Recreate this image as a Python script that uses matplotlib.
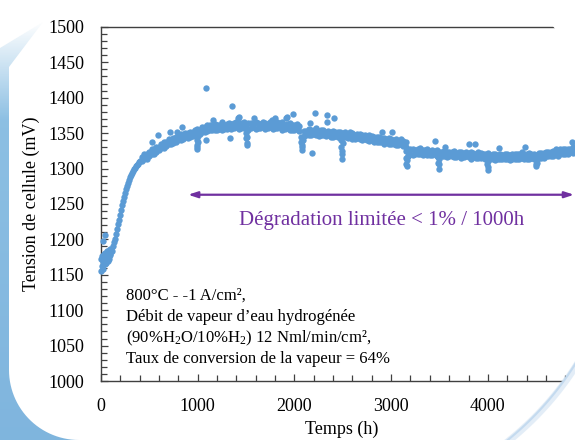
import numpy as np
import matplotlib.pyplot as plt
from matplotlib.patches import Polygon
from matplotlib.ticker import MultipleLocator

# fonts: serif like the original slide (Times-like)
plt.rcParams['font.family'] = ['Liberation Serif', 'DejaVu Serif']
plt.rcParams['mathtext.fontset'] = 'custom'
plt.rcParams['mathtext.rm'] = 'Liberation Serif'
plt.rcParams['mathtext.it'] = 'Liberation Serif:italic'

BLUE = '#5b9bd5'
PURPLE = '#7030a0'

# ---- data (time in h, cell voltage in mV) ----
# start-up and voltage rise
t_rise = [0, 5, 10, 15, 20, 25, 30, 35, 40, 45, 50, 55, 60, 65, 70, 75, 80, 85, 90, 95,
          100, 110, 120, 130, 140, 150, 160, 170, 180, 190, 200, 210, 220, 230, 240,
          250, 260, 270, 280, 290, 300, 310, 320, 330, 340, 350, 360, 370, 380, 390, 400]
v_rise = [1156, 1172, 1162, 1176, 1168, 1158, 1179, 1170, 1165, 1181, 1173, 1167, 1183,
          1175, 1170, 1184, 1177, 1172, 1186, 1179, 1178, 1185, 1184, 1190, 1196, 1201,
          1207, 1214, 1221, 1228, 1235, 1241, 1248, 1254, 1260, 1266, 1271, 1276, 1280,
          1284, 1288, 1291, 1294, 1297, 1299, 1301, 1303, 1305, 1307, 1309, 1311]

# first steady period (upper / lower edge of the point cloud)
t_a = [425, 450, 475, 500, 525, 550, 575, 600, 625, 650, 675, 700, 725, 750, 775, 800,
       825, 850, 875, 900, 925, 950, 975, 1000, 1025, 1050, 1075, 1100, 1125, 1150, 1175,
       1200, 1225, 1250, 1275, 1300, 1325, 1350, 1375, 1400, 1425, 1450, 1475, 1500, 1525,
       1550, 1575, 1600, 1625, 1650, 1675, 1700, 1725, 1750, 1775, 1800, 1825, 1850, 1875,
       1900, 1925, 1950, 1975, 2000, 2025, 2050]
v_a_hi = [1316, 1320, 1320, 1324, 1328, 1328, 1331, 1331, 1334, 1337, 1338, 1341, 1340,
          1343, 1344, 1345, 1349, 1347, 1350, 1350, 1352, 1352, 1354, 1352, 1355, 1358,
          1358, 1361, 1361, 1360, 1363, 1361, 1362, 1365, 1362, 1363, 1364, 1363, 1364,
          1365, 1363, 1364, 1366, 1362, 1364, 1364, 1363, 1365, 1364, 1363, 1366, 1364,
          1363, 1365, 1364, 1363, 1365, 1364, 1365, 1362, 1363, 1364, 1361, 1362, 1363, 1360]
v_a_lo = [1310, 1314, 1314, 1318, 1321, 1321, 1324, 1326, 1329, 1329, 1332, 1334, 1334,
          1336, 1338, 1340, 1340, 1342, 1344, 1343, 1345, 1346, 1347, 1346, 1349, 1352,
          1351, 1353, 1354, 1355, 1354, 1355, 1356, 1355, 1356, 1356, 1357, 1356, 1357,
          1358, 1356, 1357, 1357, 1357, 1355, 1357, 1358, 1356, 1357, 1357, 1358, 1356,
          1357, 1358, 1356, 1357, 1357, 1358, 1355, 1356, 1357, 1355, 1355, 1355, 1356, 1353]

# second period
t_b = [2100, 2125, 2150, 2175, 2200, 2225, 2250, 2275, 2300, 2325, 2350, 2375, 2400,
       2425, 2450, 2475, 2500, 2525, 2550, 2575, 2600, 2625, 2650, 2675, 2700, 2725,
       2750, 2775, 2800, 2825, 2850, 2875, 2900, 2925, 2950, 2975, 3000, 3025, 3050,
       3075, 3100, 3125, 3150]
v_b_hi = [1353, 1353, 1356, 1354, 1355, 1357, 1353, 1354, 1355, 1352, 1353, 1352, 1353,
          1352, 1351, 1352, 1350, 1351, 1349, 1351, 1350, 1348, 1349, 1349, 1347, 1347,
          1346, 1347, 1346, 1344, 1345, 1345, 1343, 1343, 1342, 1343, 1342, 1340, 1341,
          1339, 1341, 1339, 1338]
v_b_lo = [1346, 1348, 1347, 1348, 1349, 1348, 1346, 1348, 1347, 1346, 1347, 1345, 1345,
          1346, 1345, 1343, 1345, 1344, 1343, 1344, 1342, 1342, 1343, 1341, 1340, 1341,
          1340, 1339, 1340, 1337, 1338, 1338, 1337, 1335, 1337, 1335, 1335, 1335, 1333,
          1333, 1334, 1332, 1331]

# third period
t_c = [3175, 3200, 3225, 3250, 3275, 3300, 3325, 3350, 3375, 3400, 3425, 3450, 3475,
       3500, 3525, 3550, 3575, 3600, 3625, 3650, 3675, 3700, 3725, 3750, 3775, 3800,
       3825, 3850, 3875, 3900, 3925, 3950, 3975, 4000, 4025, 4050, 4075, 4100, 4125,
       4150, 4175, 4200, 4225, 4250, 4275, 4300, 4325, 4350, 4375, 4400, 4425, 4450,
       4475, 4500, 4525, 4550, 4575, 4600, 4625, 4650, 4675, 4700, 4725, 4750, 4775,
       4800, 4825, 4850, 4875, 4900]
v_c_hi = [1324, 1327, 1327, 1326, 1327, 1329, 1326, 1326, 1327, 1325, 1326, 1325, 1326,
          1324, 1323, 1325, 1324, 1323, 1324, 1325, 1322, 1323, 1324, 1322, 1323, 1322,
          1323, 1322, 1321, 1323, 1322, 1321, 1321, 1322, 1319, 1320, 1321, 1319, 1320,
          1319, 1321, 1320, 1319, 1321, 1320, 1320, 1321, 1323, 1320, 1321, 1322, 1320,
          1321, 1319, 1322, 1322, 1322, 1324, 1324, 1324, 1325, 1328, 1325, 1327, 1328,
          1327, 1328, 1328, 1330, 1330]
v_c_lo = [1318, 1320, 1319, 1320, 1321, 1320, 1319, 1320, 1319, 1319, 1319, 1320, 1317,
          1317, 1318, 1317, 1316, 1318, 1317, 1316, 1316, 1317, 1315, 1316, 1317, 1316,
          1314, 1316, 1315, 1315, 1315, 1316, 1313, 1313, 1314, 1313, 1312, 1314, 1313,
          1313, 1313, 1314, 1312, 1313, 1314, 1314, 1313, 1315, 1314, 1314, 1314, 1315,
          1313, 1313, 1315, 1315, 1315, 1317, 1317, 1318, 1318, 1320, 1318, 1320, 1321,
          1321, 1320, 1323, 1322, 1323]

# short voltage dips (restarts / perturbations)
t_dip = [990, 993, 996, 999, 1003,
         1500, 1505, 1508, 1511, 1514,
         2068, 2072, 2075, 2078, 2082, 2088,
         2482, 2486, 2489, 2492, 2495, 2500,
         3153, 3156, 3158, 3161, 3165, 3170,
         3482, 3486, 3490, 3494, 3498,
         3988, 3992, 3996, 4000, 4004,
         4492, 4496, 4500, 4504, 4508]
v_dip = [1340, 1333, 1327, 1331, 1338,
         1350, 1343, 1336, 1333, 1345,
         1345, 1337, 1330, 1326, 1333, 1340,
         1340, 1330, 1320, 1313, 1325, 1336,
         1325, 1315, 1306, 1304, 1312, 1318,
         1316, 1308, 1300, 1306, 1314,
         1314, 1306, 1298, 1302, 1310,
         1313, 1306, 1303, 1308, 1314]

# isolated points
t_out = [23, 45, 526, 595, 716, 785, 836, 992, 1088, 1088, 1160, 1336, 1354, 1415, 1430,
         1585, 1767, 1802, 1916, 1929, 1984, 2163, 2187, 2215, 2336, 2336, 2405, 2905,
         3008, 3456, 3560, 3800, 3870, 4111, 4387, 4870]
v_out = [1198, 1206, 1338, 1348, 1351, 1352, 1359, 1356, 1414, 1340, 1369, 1343, 1388,
         1372, 1373, 1371, 1369, 1371, 1371, 1373, 1377, 1364, 1322, 1379, 1375, 1366,
         1371, 1351, 1351, 1339, 1330, 1334, 1334, 1329, 1330, 1338]

note_lines = ['800°C - -1 A/cm²,',
              'Débit de vapeur d’eau hydrogénée',
              '(90%H$_2$O/10%H$_2$) 12 Nml/min/cm²,',
              'Taux de conversion de la vapeur = 64%']
note_y = [1121, 1090, 1060, 1031]

# ---- figure ----
fig = plt.figure(figsize=(5.75, 4.4), dpi=100)
ax = fig.add_axes([0.1753, 0.134, 0.8247, 0.805])

kw = dict(s=21, color=BLUE, linewidths=0, clip_on=False, zorder=3)
ax.scatter(t_rise, v_rise, **kw)
ax.scatter(t_a, v_a_hi, **kw)
ax.scatter(t_a, v_a_lo, **kw)
ax.scatter(t_b, v_b_hi, **kw)
ax.scatter(t_b, v_b_lo, **kw)
ax.scatter(t_c, v_c_hi, **kw)
ax.scatter(t_c, v_c_lo, **kw)
ax.scatter(t_dip, v_dip, **kw)
ax.scatter(t_out, v_out, **kw)

ax.set_xlim(0, 4900)
ax.set_ylim(1000, 1500)
ax.xaxis.set_major_locator(MultipleLocator(1000))
ax.xaxis.set_minor_locator(MultipleLocator(200))
ax.yaxis.set_major_locator(MultipleLocator(50))
ax.yaxis.set_minor_locator(MultipleLocator(10))
ax.tick_params(which='both', direction='in', top=False, right=False,
               color='#404040', width=0.9)
ax.tick_params(which='major', length=5, labelsize=13, pad=12)
ax.tick_params(which='minor', length=4)

for side in ['left', 'bottom', 'top']:
    ax.spines[side].set_color('#404040')
    ax.spines[side].set_linewidth(1.0)
ax.spines['right'].set_visible(False)

ax.set_xlabel('Temps (h)', fontsize=13)
ax.set_ylabel('Tension de cellule (mV)', fontsize=13)
ax.xaxis.set_label_coords(0.507, -0.113)
ax.yaxis.set_label_coords(-0.128, 0.5)

# degradation arrow and label
ax.annotate('', xy=(902, 1263), xytext=(4890, 1263),
            arrowprops=dict(arrowstyle='<|-|>,head_length=0.55,head_width=0.18',
                            color=PURPLE, lw=1.6, shrinkA=0, shrinkB=0))
ax.text(2898, 1227, 'Dégradation limitée < 1% / 1000h', color=PURPLE,
        fontsize=15, ha='center', va='center')

for line, y in zip(note_lines, note_y):
    ax.text(265, y, line, fontsize=12, ha='left', va='center')

# ---- slide decoration (blue swoosh behind the white card) ----
deco = fig.add_axes([0, 0, 1, 1], zorder=10)
deco.set_xlim(0, 575)
deco.set_ylim(440, 0)
deco.axis('off')
deco.patch.set_alpha(0)

th = np.linspace(0, np.pi / 2, 30)
corner = np.column_stack([79 - 70 * np.cos(th), 370 + 70 * np.sin(th)])
band = np.vstack([[[0, 48], [43, 22], [9, 67], [9, 370]], corner, [[0, 440]]])
poly = Polygon(band, closed=True, facecolor='none', edgecolor='none')
deco.add_patch(poly)
top_col = np.array([1.0, 1.0, 1.0])
mid_col = np.array([0.55, 0.75, 0.89])
low_col = np.array([0.50, 0.71, 0.87])
yy = np.linspace(0, 440, 256)
img = np.zeros((256, 1, 3))
for i, yv in enumerate(yy):
    if yv < 120:
        f = max(0.0, (yv - 20) / 100)
        img[i, 0] = top_col * (1 - f) + mid_col * f
    else:
        f = (yv - 120) / 320
        img[i, 0] = mid_col * (1 - f) + low_col * f
im = deco.imshow(img, extent=[0, 100, 440, 0], aspect='auto', zorder=1)
im.set_clip_path(poly)

# right edge of the card: white outside, faint blue rim
ys = np.linspace(-5, 445, 200)
xs = 290 + 329 * np.sqrt(1 - ((ys - 210) / 305.8) ** 2)
outside = np.vstack([np.column_stack([xs, ys]), [[600, 445], [600, -5]]])
deco.add_patch(Polygon(outside, closed=True, facecolor='white', edgecolor='none', zorder=2))
rim = ys > 300
deco.plot(xs[rim] + 3, ys[rim], color='#c9ddf0', lw=5, alpha=0.5, zorder=3)
deco.plot(xs[rim] + 1, ys[rim], color='#b7d3ec', lw=1.5, alpha=0.7, zorder=3)

fig.savefig('out.png', dpi=100)
